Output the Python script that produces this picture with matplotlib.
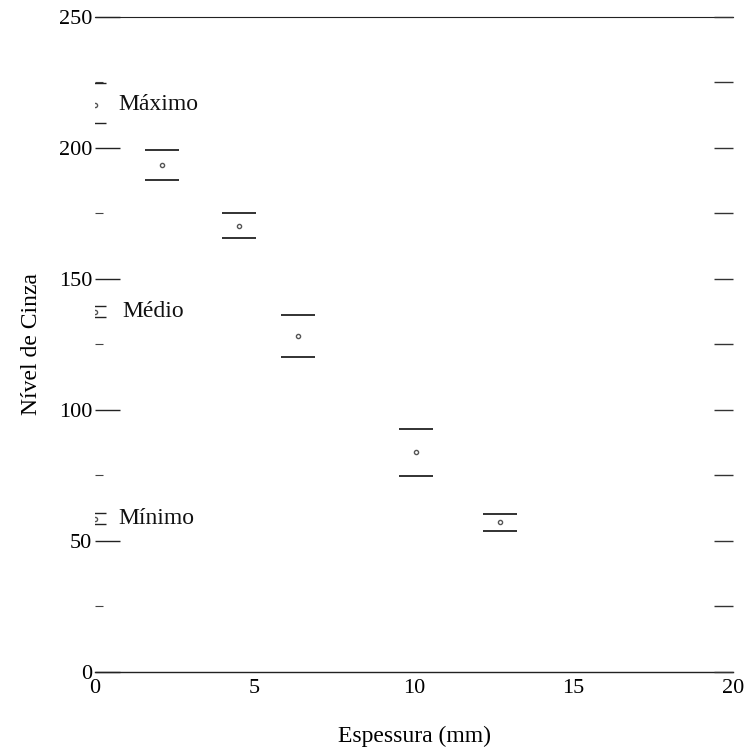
import matplotlib.pyplot as plt
from matplotlib.ticker import MultipleLocator, NullFormatter

plt.rcParams['font.family'] = ['Liberation Serif', 'DejaVu Serif']

# Reference levels (step wedge at x = 0)
ref_names = ['Máximo', 'Médio', 'Mínimo']
ref_x = [0, 0, 0]
ref_y = [216.4, 137.5, 58.5]
ref_lo = [209.5, 135.5, 56.5]
ref_hi = [224.8, 139.5, 60.5]

# Measured grey levels vs thickness
espessura = [2.1, 4.5, 6.35, 10.05, 12.7]
nivel = [193.5, 170.2, 128.2, 84.0, 57.3]
nivel_lo = [187.8, 165.6, 120.2, 74.8, 53.8]
nivel_hi = [199.2, 175.2, 136.3, 92.7, 60.3]

fig = plt.figure(figsize=(7.48, 7.54), dpi=100)
ax = fig.add_axes([0.127, 0.109, 0.853, 0.8685])

# Data points with error caps only (no vertical bar visible in the scan)
yerr = [[v - lo for v, lo in zip(nivel, nivel_lo)],
        [hi - v for v, hi in zip(nivel, nivel_hi)]]
ax.errorbar(espessura, nivel, yerr=yerr, fmt='o', ms=3, mfc='none', mec='#555',
            ecolor='#222', elinewidth=0, capsize=12.5, capthick=1.3)

ref_err = [[v - lo for v, lo in zip(ref_y, ref_lo)],
           [hi - v for v, hi in zip(ref_y, ref_hi)]]
ax.errorbar(ref_x, ref_y, yerr=ref_err, fmt='o', ms=3, mfc='none', mec='#555',
            ecolor='#222', elinewidth=0, capsize=8, capthick=1.0)

# Reference labels
for name, y, dx in zip(ref_names, ref_y, [0.72, 0.85, 0.72]):
    ax.text(dx, y, name, fontsize=17, va='center', ha='left', color='#111')

ax.set_xlim(0, 20)
ax.set_ylim(0, 250)
ax.xaxis.set_major_locator(MultipleLocator(5))
ax.yaxis.set_major_locator(MultipleLocator(50))
ax.yaxis.set_minor_locator(MultipleLocator(25))

ax.spines['left'].set_visible(False)
ax.spines['right'].set_visible(False)
ax.spines['top'].set_linewidth(0.8)
ax.spines['bottom'].set_linewidth(1.0)
for s in ax.spines.values():
    s.set_color('#222')

ax.tick_params(axis='y', which='major', direction='in', length=18, width=1.0,
               left=True, right=False, labelsize=16, color='#222', pad=2)
ax.tick_params(axis='y', which='minor', direction='in', length=6, width=0.8,
               left=True, right=False, color='#444')
ax.tick_params(axis='x', which='major', direction='in', length=0, labelsize=16, pad=5)

# Right side: evenly sized ticks every 25
axr = ax.twinx()
axr.set_ylim(ax.get_ylim())
for s in axr.spines.values():
    s.set_visible(False)
axr.yaxis.set_major_locator(MultipleLocator(25))
axr.yaxis.set_major_formatter(NullFormatter())
axr.tick_params(axis='y', direction='in', length=14, width=1.0, color='#333')

ax.set_xlabel('Espessura (mm)', fontsize=17, labelpad=20)
ax.set_ylabel('Nível de Cinza', fontsize=17, labelpad=12)

fig.savefig('out.png', dpi=100)
